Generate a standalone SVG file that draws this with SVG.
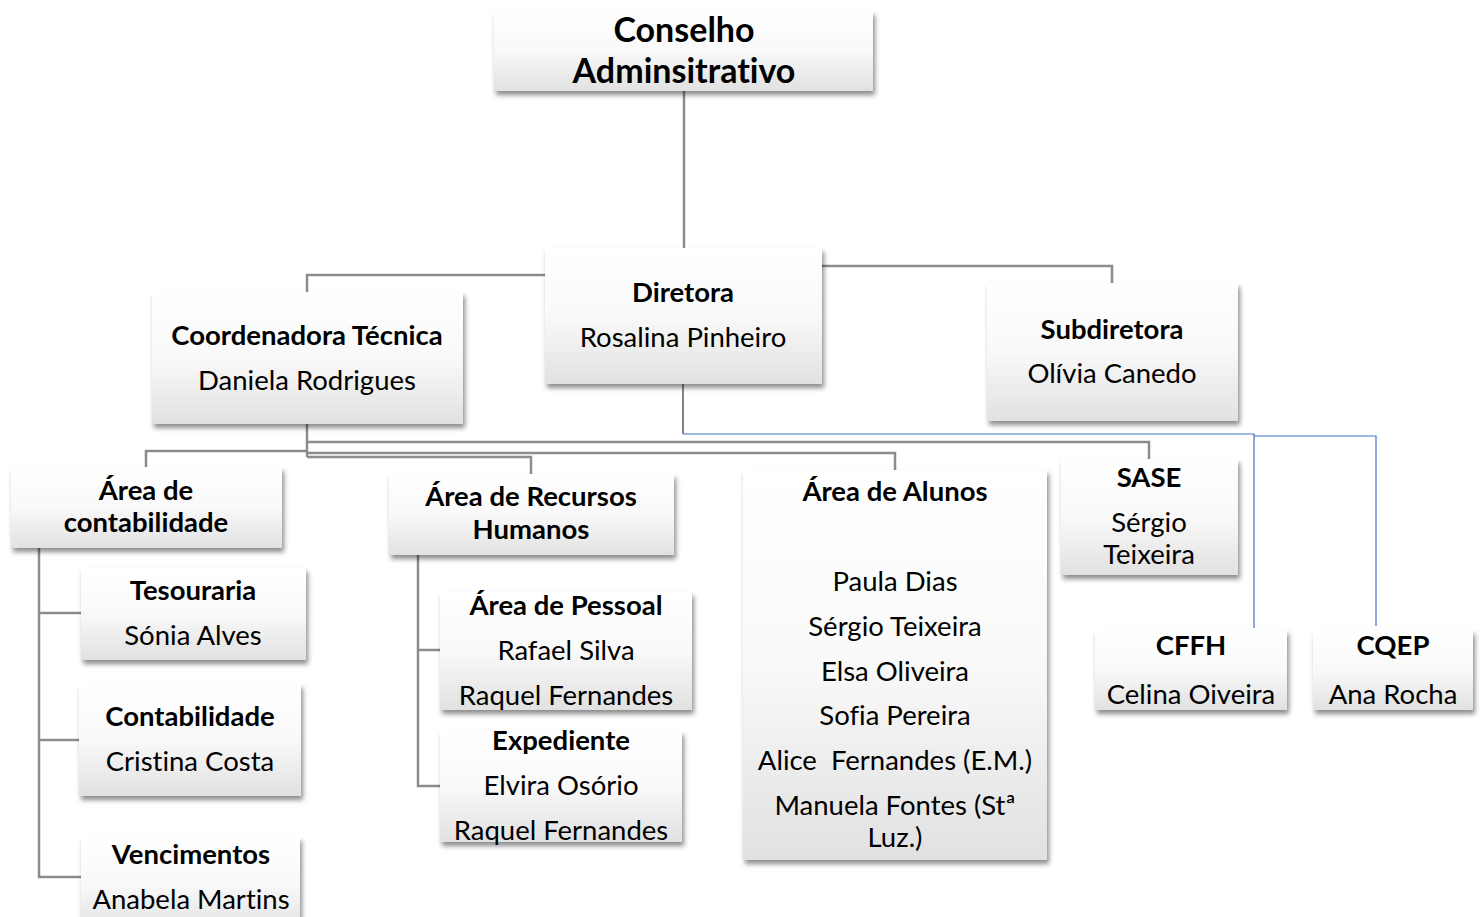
<svg xmlns="http://www.w3.org/2000/svg" width="1482" height="917" viewBox="0 0 1482 917">
<defs>
<linearGradient id="g" x1="0" y1="0" x2="0" y2="1">
<stop offset="0" stop-color="#ffffff"/>
<stop offset="0.5" stop-color="#f9f9f9"/>
<stop offset="1" stop-color="#e1e1e1"/>
</linearGradient>
<filter id="sh" x="-10%" y="-10%" width="125%" height="130%">
<feDropShadow dx="2" dy="4" stdDeviation="2.5" flood-color="#000" flood-opacity="0.45"/>
</filter>
</defs>
<style>
.box{fill:url(#g);filter:url(#sh);}
text{font-family:Lato,"Liberation Sans",sans-serif;font-size:27.5px;fill:#000;text-anchor:middle;font-variant-ligatures:none;}
.b{font-weight:bold;}
.big{font-size:34px;font-weight:bold;}
.pre{white-space:pre;}
.c{fill:none;stroke:#8c8c8c;stroke-width:2.5;}
.bl{fill:none;stroke:#4472c4;stroke-width:1.2;}
.dk{fill:none;stroke:#333;stroke-width:1.2;}
</style>
<rect width="1482" height="917" fill="#fff"/>
<g id="connectors">
<path class="c" d="M684 91V248"/>
<path class="c" d="M545 275H307V292"/>
<path class="c" d="M822 266H1112V283"/>
<path class="c" d="M307 424V457"/>
<path class="c" d="M307 442H1149V459"/>
<path class="c" d="M307 451H146V467"/>
<path class="c" d="M307 453H895V470"/>
<path class="c" d="M307 457H531V474"/>
<path class="c" d="M39 548V877H81M39 613H81M39 740H79"/>
<path class="c" d="M418 555V786H440M418 650H440"/>
<path class="dk" d="M683 384V434"/>
<path class="bl" d="M683 434H1254V628M1254 436H1376V626"/>
</g>
<g id="conselho"><rect class="box" x="494" y="11" width="379" height="80"/><text class="big" x="684" y="42">Conselho</text><text class="big" x="684" y="83">Adminsitrativo</text></g>
<g id="diretora"><rect class="box" x="545" y="248" width="277" height="136"/><text class="b" x="683" y="302">Diretora</text><text x="683" y="347">Rosalina Pinheiro</text></g>
<g id="coordenadora"><rect class="box" x="152" y="292" width="311" height="132"/><text class="b" x="307" y="345">Coordenadora Técnica</text><text x="307" y="390">Daniela Rodrigues</text></g>
<g id="subdiretora"><rect class="box" x="987" y="283" width="251" height="138"/><text class="b" x="1112" y="339">Subdiretora</text><text x="1112" y="383">Olívia Canedo</text></g>
<g id="contabilidade-area"><rect class="box" x="11" y="467" width="271" height="81"/><text class="b" x="146" y="500">Área de</text><text class="b" x="146" y="532">contabilidade</text></g>
<g id="rh"><rect class="box" x="389" y="474" width="285" height="81"/><text class="b" x="531" y="506">Área de Recursos</text><text class="b" x="531" y="539">Humanos</text></g>
<g id="alunos"><rect class="box" x="743" y="470" width="304" height="390"/><text class="b" x="895" y="501">Área de Alunos</text><text x="895" y="591">Paula Dias</text><text x="895" y="636">Sérgio Teixeira</text><text x="895" y="681">Elsa Oliveira</text><text x="895" y="725">Sofia Pereira</text><text class="pre" x="895" y="770" xml:space="preserve">Alice  Fernandes (E.M.)</text><text x="895" y="815">Manuela Fontes (Stª</text><text x="895" y="847">Luz.)</text></g>
<g id="sase"><rect class="box" x="1061" y="459" width="177" height="116"/><text class="b" x="1149" y="487">SASE</text><text x="1149" y="532">Sérgio</text><text x="1149" y="564">Teixeira</text></g>
<g id="tesouraria"><rect class="box" x="81" y="568" width="225" height="92"/><text class="b" x="193" y="600">Tesouraria</text><text x="193" y="645">Sónia Alves</text></g>
<g id="contabilidade"><rect class="box" x="79" y="684" width="222" height="112"/><text class="b" x="190" y="726">Contabilidade</text><text x="190" y="771">Cristina Costa</text></g>
<g id="vencimentos"><rect class="box" x="81" y="837" width="219" height="95"/><text class="b" x="191" y="864">Vencimentos</text><text x="191" y="909">Anabela Martins</text></g>
<g id="pessoal"><rect class="box" x="440" y="592" width="252" height="118"/><text class="b" x="566" y="615">Área de Pessoal</text><text x="566" y="660">Rafael Silva</text><text x="566" y="705">Raquel Fernandes</text></g>
<g id="expediente"><rect class="box" x="440" y="731" width="242" height="111"/><text class="b" x="561" y="750">Expediente</text><text x="561" y="795">Elvira Osório</text><text x="561" y="840">Raquel Fernandes</text></g>
<g id="cffh"><rect class="box" x="1095" y="630" width="192" height="80"/><text class="b" x="1191" y="655">CFFH</text><text x="1191" y="704">Celina Oiveira</text></g>
<g id="cqep"><rect class="box" x="1313" y="630" width="160" height="80"/><text class="b" x="1393" y="655">CQEP</text><text x="1393" y="704">Ana Rocha</text></g>
</svg>
